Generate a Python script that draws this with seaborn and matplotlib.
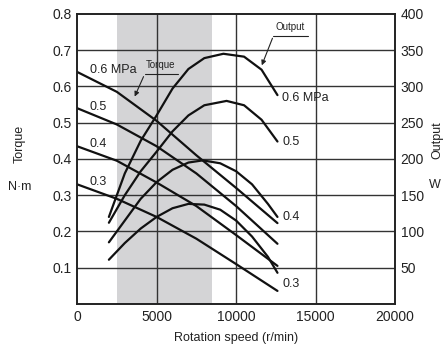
import matplotlib
matplotlib.use("Agg")
import matplotlib.pyplot as plt
import seaborn as sns
import pandas as pd

# ---- data ----
pressures = ["0.6", "0.5", "0.4", "0.3"]

torque_rpm = [0, 2500, 5000, 7500, 10000, 12600]
torque_06 = [0.64, 0.585, 0.505, 0.41, 0.32, 0.223]
torque_05 = [0.54, 0.495, 0.435, 0.36, 0.27, 0.166]
torque_04 = [0.435, 0.395, 0.335, 0.27, 0.19, 0.105]
torque_03 = [0.33, 0.29, 0.24, 0.18, 0.11, 0.036]

out06_rpm = [2000, 3000, 4000, 5000, 6000, 7000, 8000, 9200, 10500, 11600, 12600]
out06 = [120, 180, 225, 260, 297, 324, 339, 345, 341, 323, 288]
out05_rpm = [2000, 3000, 4000, 5000, 6000, 7000, 8000, 9400, 10500, 11600, 12600]
out05 = [112, 150, 183, 210, 238, 260, 274, 280, 274, 254, 224]
out04_rpm = [2000, 3000, 4000, 5000, 6000, 7000, 7900, 9000, 10000, 11000, 12000, 12600]
out04 = [85, 115, 145, 168, 185, 195, 198, 194, 183, 165, 138, 120]
out03_rpm = [2000, 3000, 4000, 5000, 6000, 7000, 8000, 9000, 10000, 11000, 12000, 12600]
out03 = [61, 84, 104, 120, 132, 138, 137, 130, 115, 93, 65, 43]

shade_range = [2500, 8500]
x_ticks = [0, 5000, 10000, 15000, 20000]
torque_ticks = [0.1, 0.2, 0.3, 0.4, 0.5, 0.6, 0.7, 0.8]
output_ticks = [50, 100, 150, 200, 250, 300, 350, 400]

torque_series = {"0.6": torque_06, "0.5": torque_05, "0.4": torque_04, "0.3": torque_03}
output_series = {"0.6": (out06_rpm, out06), "0.5": (out05_rpm, out05),
                 "0.4": (out04_rpm, out04), "0.3": (out03_rpm, out03)}

tq = pd.concat([pd.DataFrame({"rpm": torque_rpm, "val": v, "p": k})
                for k, v in torque_series.items()])
op = pd.concat([pd.DataFrame({"rpm": r, "val": v, "p": k})
                for k, (r, v) in output_series.items()])

sns.set_style("white")
plt.rcParams["font.family"] = ["Liberation Sans", "DejaVu Sans"]

fig = plt.figure(figsize=(4.43, 3.47), dpi=100)
ax = fig.add_axes([0.174, 0.124, 0.718, 0.836])
ax2 = ax.twinx()

ax.axvspan(shade_range[0], shade_range[1], color="#d4d4d6", zorder=0, lw=0)

pal = {k: "#111111" for k in pressures}
sns.lineplot(data=tq, x="rpm", y="val", hue="p", palette=pal, ax=ax,
             legend=False, lw=1.6, sort=False, estimator=None, zorder=3)
sns.lineplot(data=op, x="rpm", y="val", hue="p", palette=pal, ax=ax2,
             legend=False, lw=1.6, sort=False, estimator=None, zorder=3)

ax.set_xlim(0, 20000)
ax.set_ylim(0, 0.8)
ax2.set_ylim(0, 400)
ax.set_xticks(x_ticks)
ax.set_xticklabels([str(t) for t in x_ticks])
ax.set_yticks(torque_ticks)
ax.set_yticklabels([f"{t:.1f}" for t in torque_ticks])
ax2.set_yticks(output_ticks)
ax2.set_yticklabels([str(t) for t in output_ticks])

for t in [5000, 10000, 15000]:
    ax.axvline(t, color="#333333", lw=1.0, zorder=1)
for t in torque_ticks[:-1]:
    ax.axhline(t, color="#333333", lw=1.0, zorder=1)

for a in (ax, ax2):
    a.tick_params(length=0, labelsize=10, colors="#222222", pad=4)
    for s in a.spines.values():
        s.set_color("#222222")
        s.set_linewidth(1.2)
ax.set_xlabel("Rotation speed (r/min)", fontsize=9, color="#222222", labelpad=6)
ax.set_ylabel("")
ax2.set_ylabel("")

fig.text(20 / 443, 1 - 144 / 347, "Torque", rotation=90, ha="center", va="center", fontsize=9, color="#222222")
fig.text(20 / 443, 1 - 187 / 347, "N·m", ha="center", va="center", fontsize=9, color="#222222")
fig.text(437 / 443, 1 - 140 / 347, "Output", rotation=90, ha="center", va="center", fontsize=9, color="#222222")
fig.text(435 / 443, 1 - 185 / 347, "W", ha="center", va="center", fontsize=9, color="#222222")

# curve labels (data coordinates on torque axis)
lab = dict(fontsize=9, color="#222222", va="center", ha="left")
ax.text(800, 0.645, "0.6 MPa", **lab)
ax.text(800, 0.544, "0.5", **lab)
ax.text(800, 0.441, "0.4", **lab)
ax.text(800, 0.336, "0.3", **lab)
ax.text(12900, 0.568, "0.6 MPa", **lab)
ax.text(12900, 0.447, "0.5", **lab)
ax.text(12900, 0.240, "0.4", **lab)
ax.text(12900, 0.055, "0.3", **lab)

# callouts
ax.text(4300, 0.646, "Torque", fontsize=7, color="#222222", va="bottom", ha="left")
ax.plot([4250, 6350], [0.634, 0.634], color="#222222", lw=0.8)
ax.annotate("", xy=(3550, 0.565), xytext=(4250, 0.634),
            arrowprops=dict(arrowstyle="-|>", color="#222222", lw=0.8, mutation_scale=7))
ax.text(12500, 0.75, "Output", fontsize=7, color="#222222", va="bottom", ha="left")
ax.plot([12350, 14500], [0.74, 0.74], color="#222222", lw=0.8)
ax.annotate("", xy=(11550, 0.651), xytext=(12350, 0.74),
            arrowprops=dict(arrowstyle="-|>", color="#222222", lw=0.8, mutation_scale=7))

fig.savefig("out.png", dpi=100)
